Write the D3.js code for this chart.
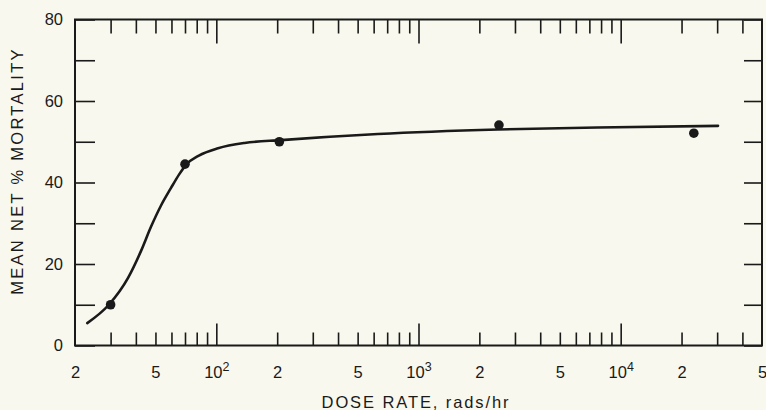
<!DOCTYPE html>
<html>
<head>
<meta charset="utf-8">
<script src="https://cdn.jsdelivr.net/npm/d3@7"></script>
<style>
  html, body { margin: 0; padding: 0; background: #f9f8ee; }
  svg { display: block; }
  text { font-family: "Liberation Sans", Arial, sans-serif; fill: #1a1a1a; }
</style>
</head>
<body>
<svg id="chart" width="766" height="410"></svg>
<script>
// ---- data ----
const doseRates = [30, 70, 205, 2500, 23000];          // rads/hr
const mortality = [10, 44.5, 50, 54.1, 52.1];          // mean net % mortality
const curveDose = [23, 29.4, 36.6, 42.6, 47.4, 53.2, 59.6, 65.5, 71, 82, 102, 138, 209, 630, 2470, 7670, 30300];
const curveMort = [5.5, 10, 16.6, 23.4, 29.0, 34.3, 38.6, 42.0, 44.4, 46.6, 48.4, 49.7, 50.4, 51.9, 53.0, 53.5, 53.9];
const xLabelValues = [20, 50, 100, 200, 500, 1000, 2000, 5000, 10000, 20000, 50000];
const xLabelMain   = ["2", "5", "10", "2", "5", "10", "2", "5", "10", "2", "5"];
const xLabelSup    = ["", "", "2", "", "", "3", "", "", "4", "", ""];
const xMajorTicks  = [100, 1000, 10000];
const xMinorTicks  = [30, 40, 50, 60, 70, 80, 90,
                      200, 300, 400, 500, 600, 700, 800, 900,
                      2000, 3000, 4000, 5000, 6000, 7000, 8000, 9000,
                      20000, 30000, 40000];
const yTicks  = [0, 10, 20, 30, 40, 50, 60, 70, 80];
const yLabels = [0, 20, 40, 60, 80];

// ---- layout ----
const L = 75, R = 762, T = 19.5, B = 345.5;
const ink = "#1a1a1a";
const font = '"Liberation Sans", Arial, sans-serif';
const svg = d3.select("#chart");
svg.append("rect").attr("width", 766).attr("height", 410).attr("fill", "#f9f8ee");

const x = d3.scaleLog().domain([20, 50000]).range([L, R]);
const y = d3.scaleLinear().domain([0, 80]).range([B, T]);

function styleAxis(g) {
  g.select(".domain").remove();
  g.selectAll(".tick line").attr("stroke", ink).attr("stroke-width", 1.6);
}

// bottom ticks (inward)
svg.append("g").attr("transform", `translate(0,${B})`)
  .call(d3.axisBottom(x).tickValues(xMinorTicks).tickSize(-13).tickFormat(""))
  .call(styleAxis);
svg.append("g").attr("transform", `translate(0,${B})`)
  .call(d3.axisBottom(x).tickValues(xMajorTicks).tickSize(-22).tickFormat(""))
  .call(styleAxis);
// top ticks (inward)
svg.append("g").attr("transform", `translate(0,${T})`)
  .call(d3.axisTop(x).tickValues(xMinorTicks).tickSize(-14).tickFormat(""))
  .call(styleAxis);
svg.append("g").attr("transform", `translate(0,${T})`)
  .call(d3.axisTop(x).tickValues(xMajorTicks).tickSize(-24).tickFormat(""))
  .call(styleAxis);
// left / right ticks (inward)
svg.append("g").attr("transform", `translate(${L},0)`)
  .call(d3.axisLeft(y).tickValues(yTicks).tickSize(-20).tickFormat(""))
  .call(styleAxis);
svg.append("g").attr("transform", `translate(${R},0)`)
  .call(d3.axisRight(y).tickValues(yTicks).tickSize(-18).tickFormat(""))
  .call(styleAxis);

// y labels
const yl = svg.append("g").attr("transform", `translate(${L},0)`)
  .call(d3.axisLeft(y).tickValues(yLabels).tickSize(0).tickPadding(12).tickFormat(d3.format("d")));
yl.select(".domain").remove();
yl.selectAll("text").attr("font-size", 16.5).attr("fill", ink).style("font-family", font);

// x labels with superscripts
const xl = svg.append("g").attr("transform", `translate(0,${B})`)
  .call(d3.axisBottom(x).tickValues(xLabelValues).tickSize(0).tickPadding(0).tickFormat(""));
xl.select(".domain").remove();
xl.selectAll(".tick").each(function(d, i) {
  const t = d3.select(this).select("text")
    .attr("y", 32).attr("dy", null)
    .attr("font-size", 16.5).attr("fill", ink)
    .style("font-family", font);
  t.text(null);
  t.append("tspan").text(xLabelMain[i]);
  if (xLabelSup[i]) {
    t.append("tspan").attr("font-size", 12.5).attr("dy", -7).text(xLabelSup[i]);
  }
});

// frame
svg.append("rect").attr("x", L).attr("y", T).attr("width", R - L).attr("height", B - T)
  .attr("fill", "none").attr("stroke", ink).attr("stroke-width", 2);

// fitted curve
const curvePts = curveDose.map((d, i) => [d, curveMort[i]]);
svg.append("path").datum(curvePts)
  .attr("fill", "none").attr("stroke", ink).attr("stroke-width", 2.6)
  .attr("stroke-linecap", "round")
  .attr("d", d3.line().x(d => x(d[0])).y(d => y(d[1])).curve(d3.curveMonotoneX));

// data points
svg.append("g").selectAll("circle").data(doseRates).join("circle")
  .attr("cx", d => x(d)).attr("cy", (d, i) => y(mortality[i]))
  .attr("r", 4.8).attr("fill", ink);

// axis titles
svg.append("text").attr("x", 416).attr("y", 408)
  .attr("text-anchor", "middle").attr("font-size", 16.5).attr("letter-spacing", 1.9)
  .text("DOSE RATE, rads/hr");
svg.append("text").attr("transform", `translate(23,171) rotate(-90)`)
  .attr("text-anchor", "middle").attr("font-size", 16.5).attr("letter-spacing", 2.3)
  .text("MEAN NET % MORTALITY");
</script>
</body>
</html>
